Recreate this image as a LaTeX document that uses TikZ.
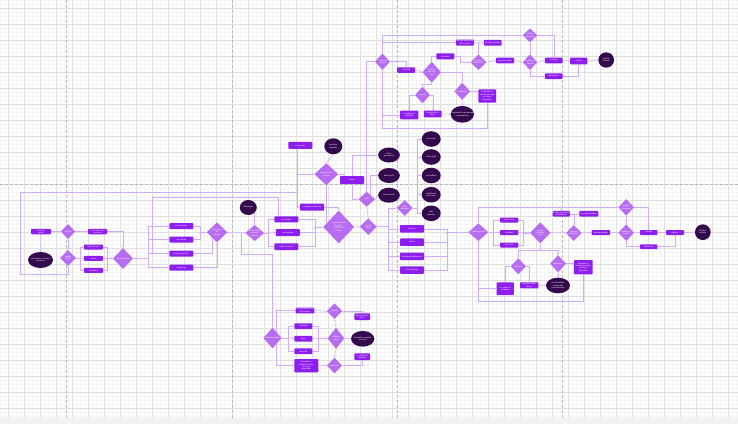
\documentclass[tikz,border=0pt]{standalone}
\usepackage{fontspec}
\newfontfamily\lblfont{Liberation Sans}
\usetikzlibrary{arrows.meta,shapes.geometric}
\definecolor{boxc}{RGB}{142,30,240}
\definecolor{diac}{RGB}{183,108,242}
\definecolor{elc}{RGB}{52,10,78}
\definecolor{linec}{RGB}{206,172,246}
\definecolor{gmaj}{RGB}{224,224,224}
\definecolor{gmin}{RGB}{245,245,245}
\tikzset{
  bx/.style={rectangle, rounded corners=0.8pt, fill=boxc, inner sep=0pt},
  dia/.style={diamond, fill=diac, inner sep=0pt},
  el/.style={ellipse, fill=elc, inner sep=0pt},
  txt/.style={text=white, font=\lblfont\fontsize{2}{2.4}\selectfont, align=center, inner sep=0pt},
  ln/.style={draw=linec, line width=0.5pt, -{Stealth[length=1.6pt,width=1.5pt]}},
  pl/.style={draw=linec, line width=0.5pt}
}
\newcommand{\bxnode}[6]{\node[bx, minimum width=#4, minimum height=#5] (#1) at (#2,#3) {}; \node[txt] (#1t) at (#1) {#6};}
\newcommand{\dinode}[6]{\node[dia, minimum width=#4, minimum height=#5] (#1) at (#2,#3) {}; \node[txt] (#1t) at (#1) {#6};}
\newcommand{\elnode}[6]{\node[el, minimum width=#4, minimum height=#5] (#1) at (#2,#3) {}; \node[txt] (#1t) at (#1) {#6};}
\begin{document}
\begin{tikzpicture}[x=1pt,y=-1pt]
\useasboundingbox (0,0) rectangle (738,424);
% background and grid
\fill[white] (0,0) rectangle (738,418);
\fill[gray!10] (0,418) rectangle (738,424);
\foreach \x in {0,4,...,736} \draw[gmin, line width=0.3pt] (\x,0) -- (\x,418);
\foreach \y in {0,4,...,416} \draw[gmin, line width=0.3pt] (0,\y) -- (738,\y);
\foreach \x in {8,24,...,728} \draw[gmaj, line width=0.6pt] (\x,0) -- (\x,418);
\foreach \y in {8,24,...,408} \draw[gmaj, line width=0.6pt] (0,\y) -- (738,\y);
\foreach \x in {66.7,232,397.3,562.7} \draw[gray!55, line width=0.6pt, dash pattern=on 2.5pt off 2.5pt] (\x,0) -- (\x,418);
\draw[gray!55, line width=0.6pt, dash pattern=on 2.5pt off 2.5pt] (0,184.3) -- (738,184.3);

% ---------------- left section
\bxnode{l1}{41}{231.5}{20}{5.5}{Inicio de\\sesión}
\dinode{l2}{68}{231.5}{14.5}{15}{verificar}
\bxnode{l3}{97.5}{231.5}{19}{5.5}{si los datos son\\correctos}
\elnode{l4}{40.5}{260}{25}{16}{contraseña o usuario\\incorrecto}
\dinode{l5}{68}{258}{16}{16}{validar\\datos}
\bxnode{l6}{93.5}{247}{19}{5}{administrador}
\bxnode{l7}{93.5}{258.3}{19}{5}{cliente}
\bxnode{l8}{93.5}{270.3}{19}{5}{vendedor}
\dinode{l9}{123}{258.5}{20}{21}{menú principal}

% ---------------- second column
\bxnode{m1}{181.3}{226.2}{24}{6}{ver productos}
\bxnode{m2}{181.3}{239.5}{24}{6}{ver ofertas}
\bxnode{m3}{181.3}{253.5}{24}{6}{búsqueda y filtro}
\bxnode{m4}{181.3}{267.7}{24}{6}{categorías}
\dinode{m5}{217}{232.3}{20.6}{20}{seleccionar\\una\\opción}

% ---------------- center
\elnode{c1}{248.3}{207.5}{17}{15}{Descargar}
\dinode{c2}{254.7}{233}{19}{16}{seleccionar\\producto\\deseado}
\bxnode{c3}{286.3}{219.3}{24}{6}{ver detalles}
\bxnode{c4}{312.2}{207.2}{24}{7}{comparar productos}
\bxnode{c5}{287.8}{232.7}{24}{7}{ver reseñas}
\bxnode{c6}{286.3}{246.7}{24}{6.7}{añadir al carrito}
\bxnode{c7}{300.3}{145.3}{24}{7}{ir al carrito}
\elnode{c8}{333.3}{146.3}{18}{16}{producto\\agotado}
\dinode{c9}{326.3}{174.2}{24}{22}{existencia en\\el stock}
\dinode{c10}{338.7}{227}{31}{33}{elegir el método\\de pago y\\confirmar la\\compra}
\bxnode{c11}{352}{180}{24}{8}{buscar}
\dinode{c12}{366.7}{199.2}{16.7}{15}{perfil}
\elnode{c13}{389}{155}{21.7}{15}{datos\\personales}
\elnode{c14}{389}{175.5}{21.7}{15}{editar perfil}
\elnode{c15}{389}{195.2}{21.7}{15}{cerrar sesión}
\dinode{c16}{404.7}{208}{16}{16}{perfil\\vendedor}
\elnode{c17}{431.2}{139}{19}{15.6}{ver ventas}
\elnode{c18}{431.2}{157}{19}{15.6}{editar perfil}
\elnode{c19}{431.2}{175.5}{19}{15.6}{ver pedidos}
\elnode{c20}{431.2}{194.7}{19}{15.6}{estadísticas\\de ventas}
\elnode{c21}{431.2}{213.3}{19}{15.6}{subir\\producto}
\dinode{c22}{368.3}{226.7}{16.7}{16.7}{tipo de\\pago}
\bxnode{c23}{412}{228.8}{24}{7.5}{efectivo}
\bxnode{c24}{412}{242.2}{24}{7.5}{tarjeta}
\bxnode{c25}{412}{256.3}{24}{7.5}{transferencia bancaria}
\bxnode{c26}{412}{270}{24}{7.5}{contraentrega}

% ---------------- right flow
\dinode{r1}{478.3}{232.2}{20}{17.7}{confirmar pedido}
\bxnode{r2}{509.2}{220}{18.3}{5}{seleccionar}
\bxnode{r3}{509.2}{232.5}{18.3}{5}{cantidad}
\bxnode{r4}{509.2}{245}{18.3}{5}{dirección}
\dinode{r5}{540.3}{232.8}{20.7}{21}{verificar\\datos de\\envío}
\bxnode{r6}{561.3}{213.8}{17.3}{5.7}{No hay existencias\\del producto}
\bxnode{r7}{588.8}{213.8}{19}{5.7}{sin disponibilidad}
\dinode{r8}{573.8}{233}{15.7}{16}{producto\\disponible}
\bxnode{r9}{600.8}{232.5}{18.5}{5}{generar pedido}
\dinode{r10}{626.2}{207.3}{15.7}{16.7}{pedido\\cancelado}
\dinode{r11}{626.2}{232.7}{15.7}{16.7}{pedido en\\camino}
\bxnode{r12}{648.7}{232.5}{17.3}{5}{entrega}
\bxnode{r13}{675}{232.5}{18}{5}{calificar}
\elnode{r14}{702.8}{232.2}{15.7}{15.7}{finalizar\\compra}
\bxnode{r15}{648.7}{246.7}{17.3}{4.7}{devolución}
\dinode{r16}{518.3}{266.3}{15.3}{16}{cancelar}
\dinode{r17}{558}{263.7}{16}{17.3}{reembolso}
\bxnode{r18}{583.3}{267.2}{18.7}{14.3}{El pedido se\\cancela por falta\\de stock\\disponible}
\bxnode{r19}{505.3}{288.7}{17.3}{12.7}{se notifica al\\vendedor}
\bxnode{r20}{529.2}{285.3}{18.3}{6}{devolución de\\dinero}
\elnode{r21}{558}{285.5}{24}{15.6}{la solicitud fue\\procesada\\correctamente}

% ---------------- top flow
\dinode{t1}{382.5}{61.7}{15}{16.7}{confirmar\\pedido}
\bxnode{t2}{406.2}{70}{18}{5.5}{cantidad}
\bxnode{t3}{445.3}{56.3}{18}{6}{dirección}
\dinode{t4}{431.7}{72.2}{18.7}{21}{verificar\\datos de\\envío}
\bxnode{t5}{465}{42.5}{18}{6}{No hay existencias\\del producto}
\bxnode{t6}{492.8}{42.8}{17.7}{5.7}{sin disponibilidad}
\dinode{t7}{478.5}{62.2}{16}{15.7}{producto\\disponible}
\bxnode{t8}{505}{60.5}{18}{5.6}{generar pedido}
\dinode{t9}{530}{35.3}{14.7}{14}{pedido\\cancelado}
\dinode{t10}{530}{62.2}{14.7}{15.7}{pedido en\\camino}
\bxnode{t11}{553.8}{60.5}{17.7}{5.6}{entrega}
\bxnode{t12}{578.7}{61}{17.3}{6.6}{calificar}
\elnode{t13}{606.2}{60}{15.7}{15.4}{finalizar\\compra}
\bxnode{t14}{553.8}{76.2}{17.7}{5.7}{devolución}
\dinode{t15}{422.5}{95}{15}{16.7}{cancelar}
\dinode{t16}{462.2}{91.3}{15.7}{17.3}{reembolso}
\bxnode{t17}{487.2}{96}{17.7}{13.3}{El pedido se\\cancela por falta\\de stock\\disponible}
\bxnode{t18}{409.2}{115}{18.3}{8.6}{se notifica al\\vendedor}
\bxnode{t19}{432.8}{114}{17.7}{6.6}{devolución de\\dinero}
\elnode{t20}{462.3}{114.3}{23.3}{16.7}{la solicitud fue procesada\\correctamente}

% ---------------- bottom flow
\dinode{b1}{272.5}{338}{18.4}{20.7}{confirmar pedido}
\bxnode{b2}{305}{310.5}{18.7}{5.7}{No hay existencias\\del producto}
\dinode{b3}{334.5}{311.2}{15.6}{15.7}{cancelar}
\bxnode{b4}{362.2}{316.7}{15.7}{6.7}{devolución de\\dinero}
\bxnode{b5}{303.3}{326.2}{18}{5.7}{cantidad}
\bxnode{b6}{303.3}{338.7}{18}{5.7}{pago}
\bxnode{b7}{303.3}{351.3}{18}{5.7}{dirección}
\dinode{b8}{336}{338.3}{16.7}{21.3}{verificar\\datos}
\elnode{b9}{362.7}{338.8}{23.3}{15.7}{el pedido se realizó\\con éxito}
\bxnode{b10}{362.2}{356.7}{15.7}{6.7}{se notifica al\\vendedor}
\bxnode{b11}{306.3}{365.7}{24}{13.3}{El pedido se\\cancela por falta\\de stock\\disponible}
\dinode{b12}{334.5}{365.5}{15.6}{15.7}{reembolso}

% ================= connectors
% left
\draw[ln] (l1.east) -- (l2.west);
\draw[ln] (l1.south) -- (l4.north);
\draw[ln] (l2.east) -- (l3.west);
\draw[ln] (l2.south) -- (l5.north);
\draw[ln] (l3.east) -| (l9.north);
\draw[ln] (l5.east) -- (80,258) |- (l6.west);
\draw[ln] (80,258) -- (l7.west);
\draw[ln] (80,258) |- (l8.west);
\draw[ln] (l6.east) -| (107.3,258.5) -- (l9.west);
\draw[ln] (l7.east) -- (l9.west);
\draw[ln] (l8.east) -| (107.3,258.5);
\draw[ln] (297.3,192) -- (20,192) -- (20,274) -| (l5.south);
% second
\draw[pl] (l9.east) -- (148,258.5);
\draw[ln] (148,258.5) |- (m1.west);
\draw[ln] (148,258.5) |- (m2.west);
\draw[ln] (148,258.5) |- (m3.west);
\draw[ln] (148,258.5) |- (m4.west);
\draw[ln] (m1.east) -- (200,226.2) |- (m5.west);
\draw[ln] (m2.east) -| (200,232.3);
\draw[ln] (m3.east) -| (212,237.4);
\draw[ln] (m4.east) -| (m5.south);
\draw[ln] (152.7,253.5) -- (152.7,197) -| ([xshift=-8pt]c3.north);
\draw[ln] (m5.east) -- (c2.west);
\draw[ln] (241,232.5) -- (241,254) -| (b1.north);
% center
\draw[ln] (c2.north) -- (254.7,212.6);
\draw[ln] (c2.east) -- (268,233) |- (c3.west);
\draw[ln] (268,233) -- (c5.west);
\draw[ln] (268,233) |- (c6.west);
\draw[ln] (c3.east) -| (315,227) -- (c10.west);
\draw[ln] (c5.east) -| (315,227);
\draw[ln] (c6.east) -| (315,227);
\draw[ln] (c4.east) -| (c10.north);
\draw[ln] ([xshift=-3pt]c7.south) |- (c9.west);
\draw[ln] ([xshift=-3pt]c7.south) |- (c4.west);
\draw[ln] (c9.north) -- (c8.south);
\draw[ln] (c9.east) -| ([xshift=-8pt]c11.north);
\draw[ln] (c9.south) -- (326.3,223.5);
\draw[ln] (c11.north) |- (c13.west);
\draw[ln] (c11.south) |- (c12.west);
\draw[ln] (c12.north) |- (t1.west);
\draw[ln] (370,194.7) |- (c14.west);
\draw[ln] (c12.east) -- (c15.west);
\draw[ln] (c22.north) -- (c12.south);
\draw[ln] (c10.east) -- (c22.west);
\draw[ln] (c22.east) -- (388,226.7) |- (c23.west);
\draw[ln] (388,226.7) |- (c24.west);
\draw[ln] (388,226.7) |- (c25.west);
\draw[ln] (388,226.7) |- (c26.west);
\draw[ln] (388,226.7) |- (c16.west);
\draw[pl] (c16.east) -- (417,208);
\foreach \e in {c17,c18,c19,c20,c21} \draw[ln] (417,208) |- (\e.west);
\draw[ln] (c23.east) -| (447,232.2) -- (r1.west);
\draw[ln] (c24.east) -| (447,232.2);
\draw[ln] (c25.east) -| (447,232.2);
\draw[ln] (c26.east) -| (447,232.2);
% right flow
\draw[pl] (r1.east) -- (493.3,232.2);
\draw[ln] (493.3,232.2) |- (r2.west);
\draw[ln] (493.3,232.2) -- (r3.west);
\draw[ln] (493.3,232.2) |- (r4.west);
\draw[ln] (r2.east) -| (523.3,232.8) -- (r5.west);
\draw[ln] (r3.east) -- (r5.west);
\draw[ln] (r4.east) -| (523.3,232.8);
\draw[ln] (r5.east) -- (r8.west);
\draw[ln] (r8.east) -- (r9.west);
\draw[ln] (r9.east) -- (r11.west);
\draw[ln] (r11.east) -- (r12.west);
\draw[ln] (r12.east) -- (r13.west);
\draw[ln] (r13.east) -- (r14.west);
\draw[ln] (r8.north) -- (573.8,213.8);
\draw[ln] (r6.east) -- (r7.west);
\draw[ln] (r1.north) |- (r10.west);
\draw[ln] (r6.north |- r10.west) -- (r6.north);
\draw[ln] (r10.east) -| (r12.north);
\draw[ln] (r10.south) -- (r11.north);
\draw[ln] (r11.south) |- (r15.west);
\draw[ln] (r15.east) -| (r13.south);
\draw[ln] (r5.south) -- (540.3,250) -| (r16.north);
\draw[ln] (540.3,250) -| (r17.north);
\draw[ln] (r16.west) -| (r19.north);
\draw[ln] (r16.east) -| (r20.north);
\draw[ln] (r20.east) -- (r21.west);
\draw[ln] (r17.south) -- (r21.north);
\draw[ln] (r17.east) -- (r18.west |- r17.east);
\draw[ln] (r1.south) -- (478.3,301) -| (r18.south);
\draw[ln] (478.3,288.7) -- (r19.west);
% top flow
\draw[ln] (t1.east) -| (t2.north);
\draw[ln] (t2.east) -- (t4.west);
\draw[ln] (t4.north) |- (t3.west);
\draw[ln] (t3.east) -- ++(6,0) |- (t7.west);
\draw[ln] (t4.east) -| (t16.north);
\draw[ln] (t1.north) |- (t5.west);
\draw[ln] (t1.north) |- (t9.west);
\draw[ln] (t5.east) -- (t6.west);
\draw[ln] (t7.north) -- (478.5,42.8);
\draw[ln] (t7.east) -- (t8.west);
\draw[ln] (t8.east) -- (t10.west);
\draw[ln] (t10.east) -- (t11.west);
\draw[ln] (t11.east) -- (t12.west);
\draw[ln] (t12.east) -- (t13.west);
\draw[ln] (t9.east) -| (t11.north);
\draw[ln] (t9.south) -- (t10.north);
\draw[ln] (t10.south) |- (t14.west);
\draw[ln] (t14.east) -| (t12.south);
\draw[ln] (t4.south) -- (431.7,84.5) -| (t15.north);
\draw[ln] (t15.west) -| (t18.north);
\draw[ln] (t15.east) -| (t19.north);
\draw[ln] (t19.east) -- (t20.west);
\draw[ln] (t16.south) -- (t20.north);
\draw[ln] (t16.east) -- (t17.west |- t16.east);
\draw[ln] (t1.south) -- (382.5,128) -| (t17.south);
\draw[ln] (382.5,115) -- (t18.west);
% bottom flow
\draw[pl] (b1.east) -- (288.3,338);
\draw[ln] (288.3,338) |- (b5.west);
\draw[ln] (288.3,338) -- (b6.west);
\draw[ln] (288.3,338) |- (b7.west);
\draw[ln] (b5.east) -| (318.3,338.3) -- (b8.west);
\draw[ln] (b6.east) -- (b8.west);
\draw[ln] (b7.east) -| (318.3,338.3);
\draw[ln] (276.7,332.4) |- (b2.west);
\draw[ln] (276.7,343.6) |- (b11.west);
\draw[ln] (b2.east) -- (b3.west);
\draw[ln] (b3.east) -| (b4.north);
\draw[ln] (b8.north) -- (b3.south);
\draw[ln] (b8.east) -- (b9.west);
\draw[ln] (b8.south) -- (b12.north);
\draw[ln] (b11.east) -- (b12.west);
\draw[ln] (b12.east) -| (b10.south);
\end{tikzpicture}
\end{document}
